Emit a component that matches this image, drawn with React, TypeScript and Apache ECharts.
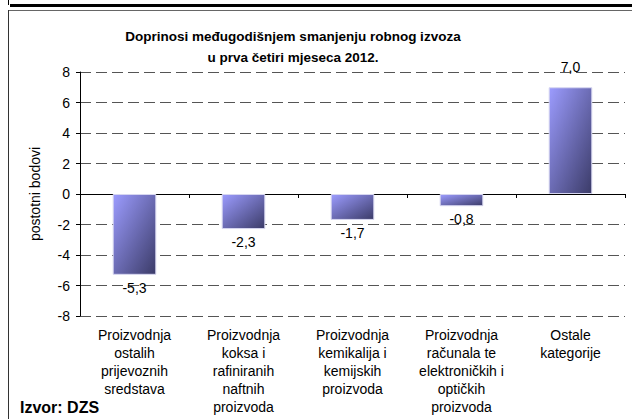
import React, { useEffect, useRef } from "react";
import * as echarts from "echarts";

const categories = [
  "Proizvodnja\nostalih\nprijevoznih\nsredstava",
  "Proizvodnja\nkoksa i\nrafiniranih\nnaftnih\nproizvoda",
  "Proizvodnja\nkemikalija i\nkemijskih\nproizvoda",
  "Proizvodnja\nračunala te\nelektroničkih i\noptičkih\nproizvoda",
  "Ostale\nkategorije",
];
const values = [-5.3, -2.3, -1.7, -0.8, 7.0];
const titleText = "Doprinosi međugodišnjem smanjenju robnog izvoza\nu prva četiri mjeseca 2012.";
const yAxisName = "postotni bodovi";
const sourceText = "Izvor: DZS";

const FONT = "'Liberation Sans', Arial, sans-serif";

export default function App() {
  const ref = useRef<HTMLDivElement>(null);
  useEffect(() => {
    if (!ref.current) return;
    const chart = echarts.init(ref.current, null, { renderer: "svg" });
    const gridRect = { left: 80, right: 7, top: 72, bottom: 103 };
    const barColor = new echarts.graphic.LinearGradient(0, 0, 1, 1, [
      { offset: 0, color: "#9c9cff" },
      { offset: 1, color: "#3b3b68" },
    ]);
    chart.setOption({
      animation: false,
      backgroundColor: "#ffffff",
      textStyle: { fontFamily: FONT },
      title: {
        text: titleText,
        left: 288,
        top: 21,
        textAlign: "center",
        textStyle: { fontFamily: FONT, fontSize: 13.5, fontWeight: "bold", color: "#000", lineHeight: 21 },
      },
      grid: [
        { ...gridRect, containLabel: false },
        { ...gridRect, containLabel: false },
      ],
      xAxis: [
        {
          type: "category",
          gridIndex: 0,
          data: categories,
          position: "bottom",
          axisLine: { show: false, onZero: false },
          axisTick: { show: false },
          splitLine: { show: false },
          axisLabel: {
            interval: 0,
            margin: 10,
            fontFamily: FONT,
            fontSize: 14,
            lineHeight: 18,
            color: "#000",
            align: "center",
          },
        },
        {
          type: "category",
          gridIndex: 1,
          data: categories,
          position: "bottom",
          axisLine: { show: true, onZero: true, lineStyle: { color: "#000", width: 1 } },
          axisTick: { show: true, length: 4, lineStyle: { color: "#000" } },
          axisLabel: { show: false },
          splitLine: { show: false },
        },
      ],
      yAxis: [
        {
          type: "value",
          gridIndex: 0,
          min: -8,
          max: 8,
          interval: 2,
          name: yAxisName,
          nameLocation: "middle",
          nameGap: 38,
          nameTextStyle: { fontFamily: FONT, fontSize: 14, color: "#000" },
          axisLine: { show: true, lineStyle: { color: "#000", width: 1 } },
          axisTick: { show: true, length: 4, lineStyle: { color: "#000" } },
          axisLabel: { fontFamily: FONT, fontSize: 14, color: "#000", margin: 10 },
          splitLine: { show: true, lineStyle: { color: "#555", width: 1, type: [11, 5] } },
        },
        {
          type: "value",
          gridIndex: 1,
          min: -8,
          max: 8,
          interval: 2,
          show: false,
          splitLine: { show: false },
        },
      ],
      series: [
        {
          type: "bar",
          xAxisIndex: 0,
          yAxisIndex: 0,
          barWidth: "40%",
          data: values.map((v) => ({
            value: v,
            label: { position: v < 0 ? "bottom" : "top", distance: v < 0 ? 6 : 13 },
          })),
          itemStyle: { color: barColor, borderColor: "#d6d6f0", borderWidth: 1 },
          label: {
            show: true,
            fontFamily: FONT,
            fontSize: 14,
            color: "#000",
            formatter: (p: any) => Number(p.value).toFixed(1).replace(".", ","),
          },
        },
      ],
      graphic: [
        { type: "line", shape: { x1: 8.5, y1: 0, x2: 8.5, y2: 5 }, style: { stroke: "#000", lineWidth: 1 } },
        { type: "rect", shape: { x: 10, y: 4, width: 622, height: 3 }, style: { fill: "#000" } },
        { type: "line", shape: { x1: 8, y1: 10.5, x2: 632, y2: 10.5 }, style: { stroke: "#666", lineWidth: 1 } },
        { type: "line", shape: { x1: 8.5, y1: 10, x2: 8.5, y2: 419 }, style: { stroke: "#333", lineWidth: 1 } },
        {
          type: "text",
          left: 20,
          top: 399,
          style: { text: sourceText, fontFamily: FONT, fontSize: 16, fontWeight: "bold", fill: "#000" },
        },
      ],
    });
    return () => chart.dispose();
  }, []);
  return (
    <div
      ref={ref}
      style={{ position: "fixed", left: 0, top: 0, width: 632, height: 419 }}
    />
  );
}
